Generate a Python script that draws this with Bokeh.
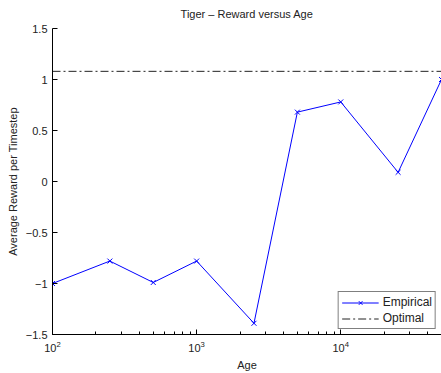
from bokeh.plotting import figure
from bokeh.models import Legend, LegendItem, FixedTicker, LogTicker
from bokeh.embed import file_html
from bokeh.resources import INLINE

ages = [100, 250, 500, 1000, 2500, 5000, 10000, 25000, 50000]
empirical = [-1.0, -0.78, -0.99, -0.78, -1.39, 0.68, 0.78, 0.09, 1.0]
optimal = 1.08
y_ticks = [-1.5, -1.0, -0.5, 0.0, 0.5, 1.0, 1.5]
y_tick_labels = ["\u22121.5", "\u22121", "\u22120.5", "0", "0.5", "1", "1.5"]

FONT = "Liberation Sans"

p = figure(width=441, height=373, x_axis_type="log",
           x_range=(100, 50000), y_range=(-1.5, 1.5),
           output_backend="svg", toolbar_location=None,
           title="Tiger \u2013 Reward versus Age",
           min_border_left=52, min_border_right=0,
           min_border_top=28, min_border_bottom=38)

p.title.align = "center"
p.title.text_font = FONT
p.title.text_font_size = "11px"
p.title.text_font_style = "normal"
p.title.text_color = "#222222"
p.title.vertical_align = "top"
p.title.standoff = 13

p.xgrid.grid_line_color = None
p.ygrid.grid_line_color = None
p.outline_line_color = None
p.background_fill_color = "white"
p.border_fill_color = "white"

l_emp = p.line(ages, empirical, line_color="#0000ff", line_width=1)
s_emp = p.scatter(ages, empirical, marker="x", size=7, line_color="#0000ff", line_width=1)
l_opt = p.line([ages[0], ages[-1]], [optimal, optimal], line_color="#222222",
               line_width=1, line_dash="8 3 2 3")

for ax in (p.xaxis[0], p.yaxis[0]):
    ax.axis_line_color = "black"
    ax.major_tick_line_color = "black"
    ax.minor_tick_line_color = "black"
    ax.major_tick_in = 5
    ax.major_tick_out = 0
    ax.minor_tick_in = 3
    ax.minor_tick_out = 0
    ax.major_label_text_font = FONT
    ax.major_label_text_font_size = "11px"
    ax.major_label_text_color = "#222222"
    ax.axis_label_text_font = FONT
    ax.axis_label_text_font_size = "11px"
    ax.axis_label_text_font_style = "normal"
    ax.axis_label_text_color = "#222222"

p.xaxis[0].ticker = LogTicker(num_minor_ticks=10)
p.xaxis[0].axis_label = "Age"
p.xaxis[0].axis_label_standoff = 4
p.xaxis[0].major_label_standoff = 6

p.yaxis[0].ticker = FixedTicker(ticks=y_ticks)
p.yaxis[0].major_label_overrides = {t: lab for t, lab in zip(y_ticks, y_tick_labels)}
p.yaxis[0].minor_tick_line_color = None
p.yaxis[0].axis_label = "Average Reward per Timestep"
p.yaxis[0].axis_label_standoff = 4
p.yaxis[0].major_label_standoff = 5

legend = Legend(items=[LegendItem(label="Empirical", renderers=[l_emp, s_emp]),
                       LegendItem(label="Optimal", renderers=[l_opt])],
                location="bottom_right")
legend.border_line_color = "black"
legend.border_line_width = 1
legend.background_fill_alpha = 1
legend.label_text_font = FONT
legend.label_text_font_size = "12px"
legend.label_text_color = "#222222"
legend.glyph_width = 37
legend.glyph_height = 13
legend.label_height = 13
legend.spacing = 2
legend.padding = 3
legend.margin = 5
legend.label_standoff = 4
p.add_layout(legend)

open("out.html", "w").write(file_html(p, INLINE))
